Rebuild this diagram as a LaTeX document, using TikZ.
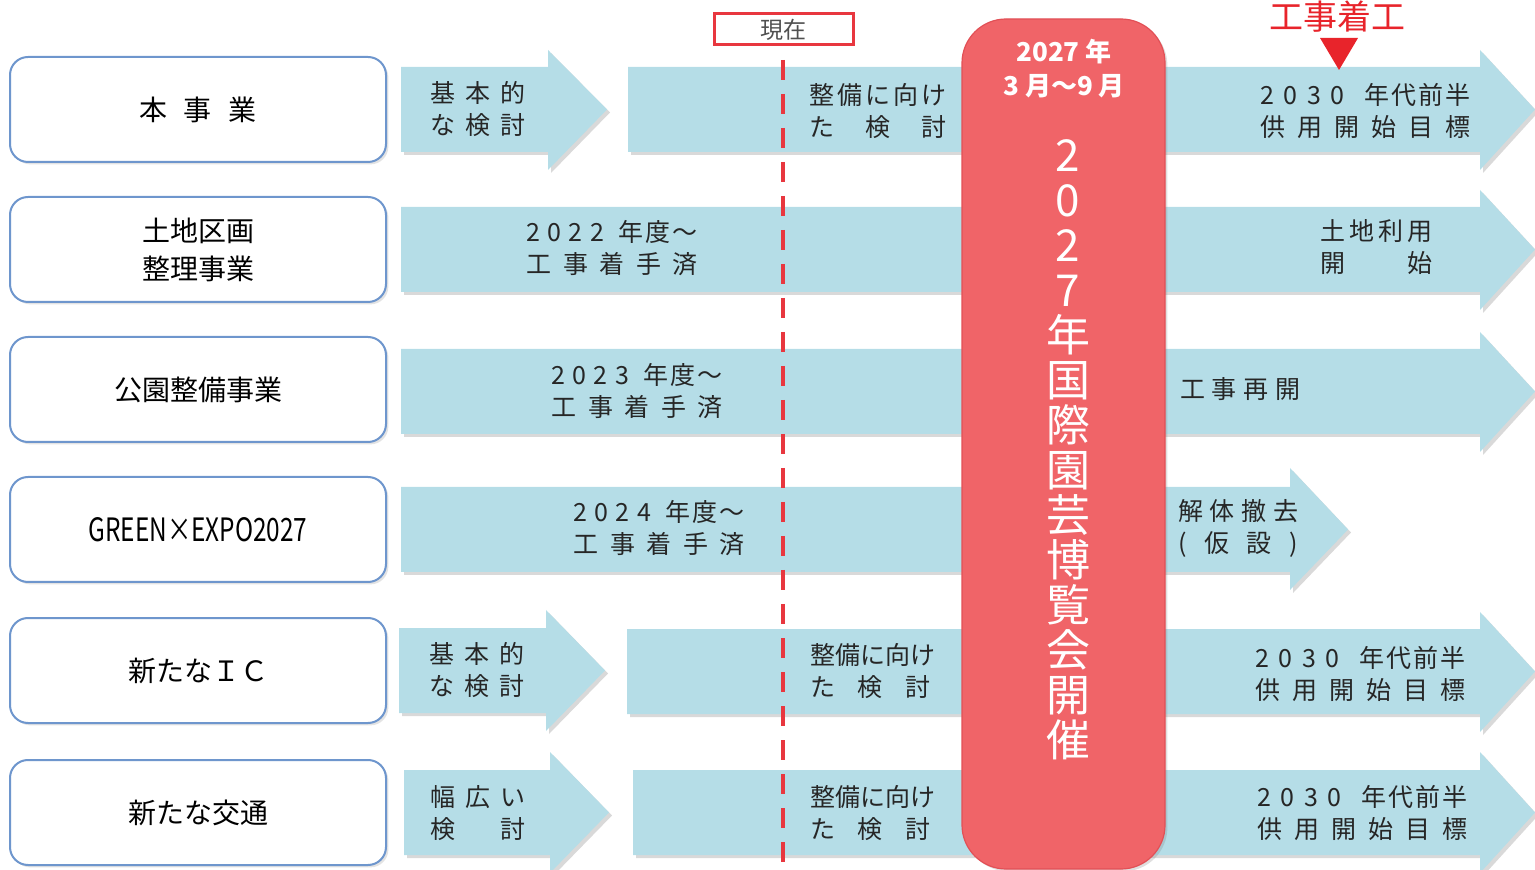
\documentclass[tikz,border=0pt]{standalone}
\usepackage{fontspec}
\setmainfont{Noto Sans CJK JP}
\usetikzlibrary{shadows}
\definecolor{arrowblue}{RGB}{181,221,231}
\definecolor{boxblue}{RGB}{110,150,205}
\definecolor{expored}{RGB}{240,100,104}
\definecolor{expoedge}{RGB}{226,80,86}
\definecolor{dashred}{RGB}{232,55,63}
\definecolor{markred}{RGB}{232,36,43}
\definecolor{txtgray}{RGB}{80,80,80}
\newcommand\J[2]{\makebox[#1pt][s]{#2}}
\newcommand\harrow[7]{%
  \path[arrowshape] (#1,#4) -- (#2,#4) -- (#2,#6) -- (#3,{(#4+#5)/2}) -- (#2,#7) -- (#2,#5) -- (#1,#5) -- cycle;}
\tikzset{
  rowbox/.style={draw=boxblue, line width=1pt, rounded corners=9pt, fill=white,
    minimum width=188pt, minimum height=52.5pt, inner sep=0pt,
    drop shadow={shadow xshift=1.2pt, shadow yshift=-1.2pt, opacity=0.22},
    font=\fontsize{14}{19}\selectfont, align=center},
  arrowshape/.style={fill=arrowblue, drop shadow={shadow xshift=1.5pt, shadow yshift=-1.5pt, opacity=0.3}},
  atxt/.style={font=\fontsize{12.5}{16}\selectfont, align=left, inner sep=0pt, text=black!85},
}
\begin{document}
\begin{tikzpicture}[x=0.5pt,y=-0.5pt]
\useasboundingbox (0,0) rectangle (1535,870);

% ---------- row boxes ----------
\node[rowbox] (r1) at (198,109.5) {\J{59}{本\hfill 事\hfill 業}};
\node[rowbox] (r2) at (198,249.5) {土地区画\\整理事業};
\node[rowbox] (r3) at (198,389.5) {公園整備事業};
\node[rowbox] (r4) at (198,529.5) {\resizebox{109.5pt}{12pt}{GREEN×EXPO2027}};
\node[rowbox] (r5) at (198,670.5) {新たなＩＣ};
\node[rowbox] (r6) at (198,812.5) {新たな交通};

% ---------- arrows ----------
\harrow{401}{548}{607}{67}{152}{50}{170}
\harrow{628}{1480}{1535}{67}{152}{50}{170}
\harrow{401}{1480}{1535}{207}{292}{190}{310}
\harrow{401}{1480}{1535}{349}{434}{332}{452}
\harrow{401}{1290}{1348}{487}{572}{468}{590}
\harrow{399}{546}{605}{628}{713}{610}{731}
\harrow{627}{1480}{1535}{629}{714}{612}{732}
\harrow{404}{550}{609}{770}{855}{752}{873}
\harrow{633}{1480}{1535}{770}{855}{752}{873}

% ---------- arrow texts ----------
% row 1
\node[atxt] (t1a) at (478,109) {\J{47.5}{基\hfill 本\hfill 的}\\\J{47.5}{な\hfill 検\hfill 討}};
\node[atxt] (t1b) at (878,111) {\J{68.5}{整\hfill 備\hfill に\hfill 向\hfill け}\\\J{68.5}{た\hfill 検\hfill 討}};
\node[atxt] (t1c) at (1365,111) {\J{105}{2\hfill 0\hfill 3\hfill 0\hfill\hfill 年\kern1pt 代\kern1pt 前\kern1pt 半}\\\J{105}{供\hfill 用\hfill 開\hfill 始\hfill 目\hfill 標}};
% row 2
\node[atxt] (t2a) at (612,248) {\J{85.5}{2\hfill 0\hfill 2\hfill 2\hfill\hfill 年\kern1pt 度\kern1pt ～}\\\J{85.5}{工\hfill 事\hfill 着\hfill 手\hfill 済}};
\node[atxt] (t2c) at (1376,247) {\J{56}{土\hfill 地\hfill 利\hfill 用}\\\J{56}{開\hfill 始}};
% row 3
\node[atxt] (t3a) at (637,391) {\J{85.5}{2\hfill 0\hfill 2\hfill 3\hfill\hfill 年\kern1pt 度\kern1pt ～}\\\J{85.5}{工\hfill 事\hfill 着\hfill 手\hfill 済}};
\node[atxt] (t3c) at (1240,389) {\J{60}{工\hfill 事\hfill 再\hfill 開}};
% row 4
\node[atxt] (t4a) at (659,528) {\J{85.5}{2\hfill 0\hfill 2\hfill 4\hfill\hfill 年\kern1pt 度\kern1pt ～}\\\J{85.5}{工\hfill 事\hfill 着\hfill 手\hfill 済}};
\node[atxt] (t4c) at (1238,528) {\J{60}{解\hfill 体\hfill 撤\hfill 去}\\\J{60}{(\hfill 仮\hfill 設\hfill )}};
% row 5
\node[atxt] (t5a) at (477,670) {\J{47.5}{基\hfill 本\hfill 的}\\\J{47.5}{な\hfill 検\hfill 討}};
\node[atxt] (t5b) at (870,671) {\J{60}{整備に向け}\\\J{60}{た\hfill 検\hfill 討}};
\node[atxt] (t5c) at (1360,674) {\J{105}{2\hfill 0\hfill 3\hfill 0\hfill\hfill 年\kern1pt 代\kern1pt 前\kern1pt 半}\\\J{105}{供\hfill 用\hfill 開\hfill 始\hfill 目\hfill 標}};
% row 6
\node[atxt] (t6a) at (478,813) {\J{47.5}{幅\hfill 広\hfill い}\\\J{47.5}{検\hfill 討}};
\node[atxt] (t6b) at (870,813) {\J{60}{整備に向け}\\\J{60}{た\hfill 検\hfill 討}};
\node[atxt] (t6c) at (1362,813) {\J{105}{2\hfill 0\hfill 3\hfill 0\hfill\hfill 年\kern1pt 代\kern1pt 前\kern1pt 半}\\\J{105}{供\hfill 用\hfill 開\hfill 始\hfill 目\hfill 標}};

% ---------- current-time marker ----------
\coordinate (nowtop) at (783,60);
\coordinate (nowbot) at (783,872);
\draw[dashred, line width=2pt, dash pattern=on 10pt off 7pt] (nowtop) -- (nowbot);
\node[draw=dashred, line width=1.5pt, fill=white, minimum width=69.5pt, minimum height=15.5pt,
      inner sep=0pt, text=txtgray, font=\fontsize{11.5}{11.5}\selectfont] (now) at (783.5,29.5) {現在};

% ---------- expo bar ----------
\node[fill=expored, draw=expoedge, line width=0.6pt, rounded corners=22pt, minimum width=101.5pt,
      minimum height=425pt, inner sep=0pt,
      drop shadow={shadow xshift=1.2pt, shadow yshift=-1.2pt, opacity=0.25}] (expo) at (1063.5,444) {};
\node[text=white, font=\bfseries\fontsize{13}{17}\selectfont, align=center, inner sep=0pt] (date) at (1064,69)
  {2027 年\\3 月～9 月};
\node[text=white, font=\fontsize{22}{22.5}\selectfont, align=center, inner sep=0pt] (title) at (1068,450)
  {2\\0\\2\\7\\年\\国\\際\\園\\芸\\博\\覧\\会\\開\\催};

% ---------- construction start marker ----------
\node[text=markred, font=\fontsize{17}{17}\selectfont, inner sep=0pt] (kochaku) at (1337,17) {工事着工};
\fill[markred] (1320,38) -- (1358,38) -- (1339,70) -- cycle;
\end{tikzpicture}
\end{document}
